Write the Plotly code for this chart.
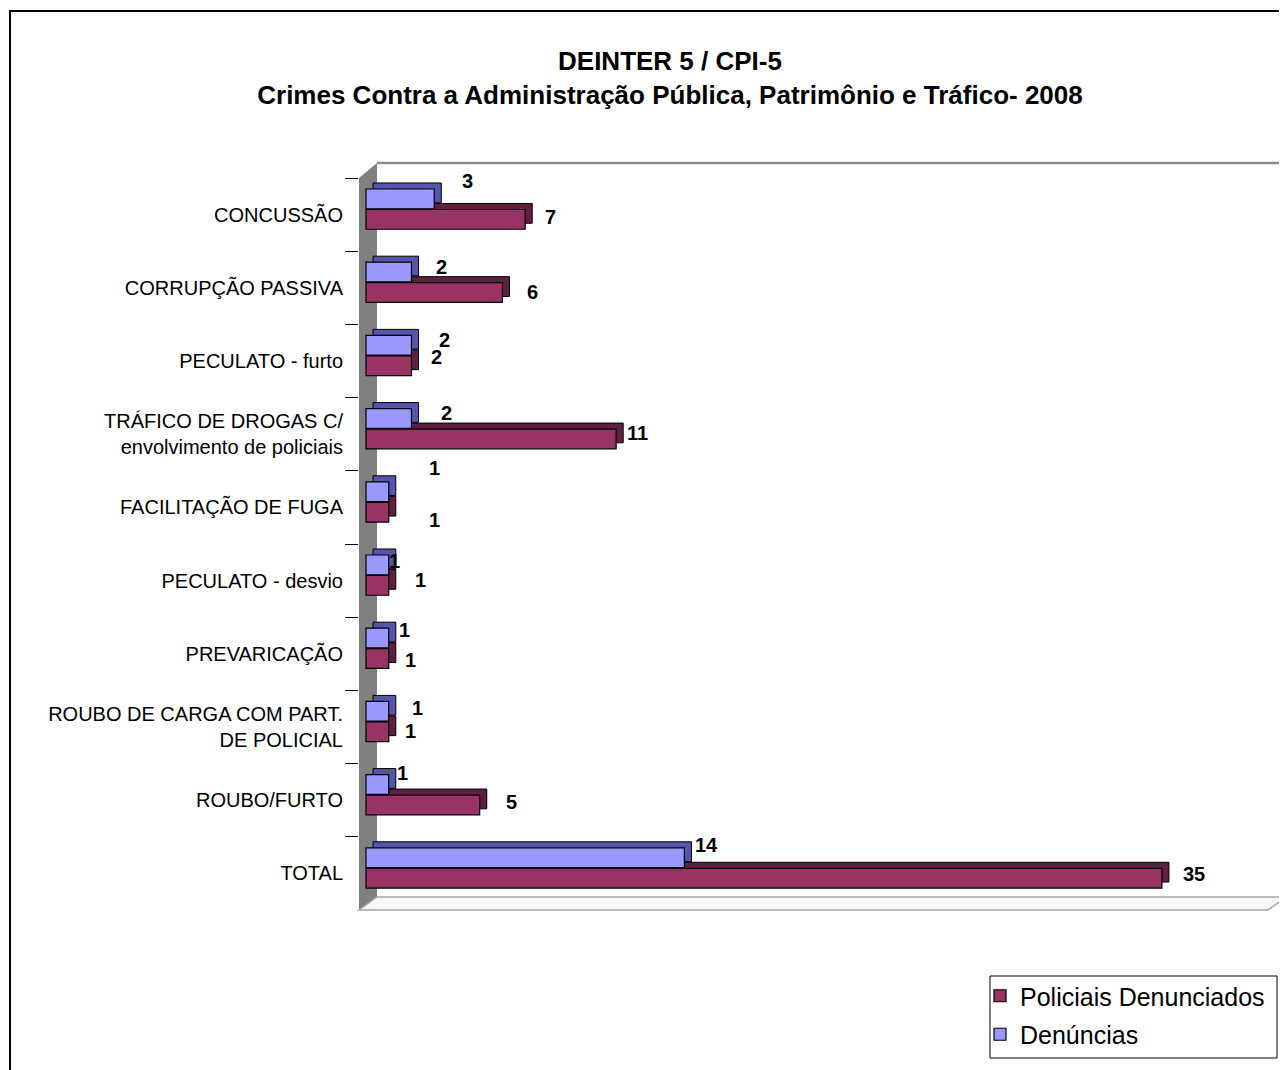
import plotly.graph_objects as go

# data ------------------------------------------------------------
categorias = [
    'CONCUSSÃO',
    'CORRUPÇÃO PASSIVA',
    'PECULATO - furto',
    'TRÁFICO DE DROGAS C/<br>envolvimento de policiais',
    'FACILITAÇÃO DE FUGA',
    'PECULATO - desvio',
    'PREVARICAÇÃO',
    'ROUBO DE CARGA COM PART.<br>DE POLICIAL',
    'ROUBO/FURTO',
    'TOTAL',
]
denuncias = [3, 2, 2, 2, 1, 1, 1, 1, 1, 14]
policiais = [7, 6, 2, 11, 1, 1, 1, 1, 5, 35]

# label nudges (pixels) to mimic the original placement
den_dx = [33, 30, 33, 35, 46, 6, 16, 29, 14, 22]
den_dy = [34, 21, 21, 21, 39, 20, 24, 19, 27, 28]
pol_dx = [25, 30, 25, 21, 46, 32, 22, 22, 32, 32]
pol_dy = [-2, -4, 4, 1, -13, 1, -6, -4, -2, -1]

# style -----------------------------------------------------------
RED = '#993366'
RED_DARK = '#5e1f40'
BLUE = '#9999ff'
BLUE_DARK = '#5555b0'
BAR_W = 0.27
DEPTH_X = 0.31   # data units, 3d depth to the right
DEPTH_Y = 0.082  # category units, 3d depth upwards

W, H = 1287, 1070
OFF = 8  # page body margin
ML, MT = 359 - OFF, 163 - OFF
MR, MB = W - (1286 - OFF), H - (910 - OFF)
PW, PH = W - ML - MR, H - MT - MB


def px(x):
    return (x - OFF - ML) / PW


def py(y):
    return (H - MB - (y - OFF)) / PH


fig = go.Figure()

# Policiais Denunciados (lower bar in each group)
fig.add_trace(go.Bar(
    y=categorias, x=policiais, base=DEPTH_X, orientation='h',
    offset=-0.07 - DEPTH_Y, width=BAR_W,
    marker=dict(color=RED_DARK, line=dict(color='black', width=1)),
    showlegend=False, hoverinfo='skip', legendgroup='pol'
))
fig.add_trace(go.Bar(
    y=categorias, x=policiais, orientation='h', name='Policiais Denunciados',
    offset=-0.07, width=BAR_W, legendgroup='pol',
    marker=dict(color=RED, line=dict(color='black', width=1.2))
))

# Denúncias (upper bar in each group)
fig.add_trace(go.Bar(
    y=categorias, x=denuncias, base=DEPTH_X, orientation='h',
    offset=-0.35 - DEPTH_Y, width=BAR_W,
    marker=dict(color=BLUE_DARK, line=dict(color='black', width=1)),
    showlegend=False, hoverinfo='skip', legendgroup='den'
))
fig.add_trace(go.Bar(
    y=categorias, x=denuncias, orientation='h', name='Denúncias',
    offset=-0.35, width=BAR_W, legendgroup='den',
    marker=dict(color=BLUE, line=dict(color='black', width=1.2))
))

# value labels
lab_font = dict(family='Liberation Sans Narrow, Arial Narrow, Liberation Sans',
                size=20, color='black')
for cat, v, dx, dy in zip(categorias, denuncias, den_dx, den_dy):
    fig.add_annotation(x=v, y=cat, text=f'<b>{v}</b>', showarrow=False,
                       xshift=dx, yshift=dy, font=lab_font)
for cat, v, dx, dy in zip(categorias, policiais, pol_dx, pol_dy):
    fig.add_annotation(x=v, y=cat, text=f'<b>{v}</b>', showarrow=False,
                       xshift=dx, yshift=dy, font=lab_font)

# 3d walls / floor / chart border / legend box
shapes = [
    dict(type='path', xref='paper', yref='paper', layer='below',
         path=f'M {px(359)},{py(178)} L {px(377)},{py(163)} L {px(377)},{py(897)} '
              f'L {px(359)},{py(910)} Z',
         fillcolor='#808080', line=dict(width=0)),
    dict(type='path', xref='paper', yref='paper', layer='below',
         path=f'M {px(359)},{py(910)} L {px(377)},{py(897)} L {px(1286)},{py(897)} '
              f'L {px(1268)},{py(910)} Z',
         fillcolor='#f6f6f6', line=dict(color='#a6a6a6', width=1.5)),
    dict(type='line', xref='paper', yref='paper', layer='below',
         x0=px(377), y0=py(163), x1=px(1286), y1=py(163),
         line=dict(color='#8c8c8c', width=2.5)),
    dict(type='line', xref='paper', yref='paper', layer='below',
         x0=px(1286), y0=py(163), x1=px(1286), y1=py(897),
         line=dict(color='#a6a6a6', width=2)),
    dict(type='rect', xref='paper', yref='paper', layer='above',
         x0=px(10), y0=py(11), x1=px(1310), y1=py(1090),
         line=dict(color='black', width=2), fillcolor='rgba(0,0,0,0)'),
    dict(type='rect', xref='paper', yref='paper', layer='above',
         x0=px(990), y0=py(976), x1=px(1277), y1=py(1058),
         line=dict(color='black', width=1), fillcolor='rgba(0,0,0,0)'),
]

fig.update_layout(
    width=W, height=H,
    margin=dict(l=ML, r=MR, t=MT, b=MB, autoexpand=False),
    paper_bgcolor='white', plot_bgcolor='white',
    barmode='overlay',
    font=dict(family='Liberation Sans, Arial', color='black'),
    title=dict(
        text='<b>DEINTER 5 / CPI-5<br>Crimes Contra a Administração Pública, '
             'Patrimônio e Tráfico- 2008</b>',
        x=(670 - OFF) / W, xanchor='center', xref='container',
        y=1 - (70 - OFF) / H, yanchor='top', yref='container',
        font=dict(size=26, family='Liberation Sans, Arial', color='black'),
    ),
    xaxis=dict(range=[-7 / 22.74, (1286 - 366) / 22.74], visible=False,
               showgrid=False, zeroline=False),
    yaxis=dict(type='category', range=[9.5, -0.5 - 15 / 73.2],
               showgrid=False, zeroline=False, showline=False,
               ticks='outside', tickson='boundaries', ticklen=13,
               tickcolor='black', tickwidth=1, ticklabelstandoff=15,
               tickfont=dict(size=20, family='Liberation Sans, Arial', color='black')),
    legend=dict(
        x=(980 - OFF) / W, y=1 - (973 - OFF) / H, xref='container', yref='container',
        xanchor='left', yanchor='top',
        bgcolor='rgba(0,0,0,0)', borderwidth=0,
        font=dict(size=25, family='Liberation Sans, Arial', color='black'),
        tracegroupgap=3, itemwidth=30,
    ),
    shapes=shapes,
)

fig.write_html("out.html")
